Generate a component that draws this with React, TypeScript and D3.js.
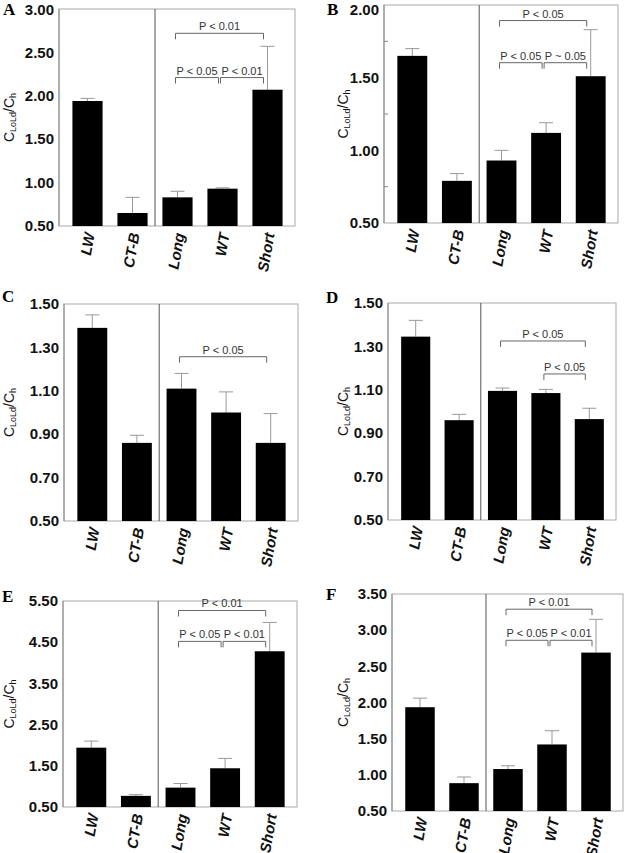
import React from "react";
import * as d3 from "d3";

const categories = ["LW", "CT-B", "Long", "WT", "Short"];

const meansA = [1.94, 0.65, 0.83, 0.93, 2.07];
const errA = [0.03, 0.18, 0.07, 0.01, 0.5];
const meansB = [1.65, 0.79, 0.93, 1.12, 1.51];
const errB = [0.05, 0.05, 0.07, 0.07, 0.32];
const meansC = [1.39, 0.86, 1.11, 1.0, 0.86];
const errC = [0.06, 0.035, 0.07, 0.095, 0.135];
const meansD = [1.345, 0.96, 1.095, 1.085, 0.965];
const errD = [0.075, 0.027, 0.013, 0.017, 0.05];
const meansE = [1.94, 0.77, 0.97, 1.44, 4.28];
const errE = [0.16, 0.03, 0.1, 0.24, 0.7];
const meansF = [1.935, 0.885, 1.08, 1.42, 2.69];
const errF = [0.125, 0.085, 0.045, 0.19, 0.46];

const ticksA = [0.5, 1.0, 1.5, 2.0, 2.5, 3.0];
const ticksB = [0.5, 1.0, 1.5, 2.0];
const minorB = [0.75, 1.25, 1.75];
const ticksC = [0.5, 0.7, 0.9, 1.1, 1.3, 1.5];
const ticksD = [0.5, 0.7, 0.9, 1.1, 1.3, 1.5];
const ticksE = [0.5, 1.5, 2.5, 3.5, 4.5, 5.5];
const ticksF = [0.5, 1.0, 1.5, 2.0, 2.5, 3.0, 3.5];

const bracketsA = [
  { from: "Long", to: "Short", level: 2.72, label: "P < 0.01" },
  { from: "Long", to: "WT", level: 2.21, label: "P < 0.05" },
  { from: "WT", to: "Short", level: 2.21, label: "P < 0.01" },
];
const bracketsB = [
  { from: "Long", to: "Short", level: 1.893, label: "P < 0.05" },
  { from: "Long", to: "WT", level: 1.603, label: "P < 0.05" },
  { from: "WT", to: "Short", level: 1.603, label: "P ~ 0.05" },
];
const bracketsC = [{ from: "Long", to: "Short", level: 1.257, label: "P < 0.05" }];
const bracketsD = [
  { from: "Long", to: "Short", level: 1.325, label: "P < 0.05" },
  { from: "WT", to: "Short", level: 1.173, label: "P < 0.05" },
];
const bracketsE = [
  { from: "Long", to: "Short", level: 5.27, label: "P < 0.01" },
  { from: "Long", to: "WT", level: 4.52, label: "P < 0.05" },
  { from: "WT", to: "Short", level: 4.52, label: "P < 0.01" },
];
const bracketsF = [
  { from: "Long", to: "Short", level: 3.29, label: "P < 0.01" },
  { from: "Long", to: "WT", level: 2.86, label: "P < 0.05" },
  { from: "WT", to: "Short", level: 2.86, label: "P < 0.01" },
];

const panels = [
  { letter: "A", means: meansA, err: errA, ticks: ticksA, minor: [], brackets: bracketsA, domain: [0.5, 3.0], x0: 59, x1: 295, y0: 9, y1: 226, lx: 14, letterX: 3, letterY: 15 },
  { letter: "B", means: meansB, err: errB, ticks: ticksB, minor: minorB, brackets: bracketsB, domain: [0.5, 2.0], x0: 384, x1: 618, y0: 5, y1: 223, lx: 348, letterX: 327, letterY: 15 },
  { letter: "C", means: meansC, err: errC, ticks: ticksC, minor: [], brackets: bracketsC, domain: [0.5, 1.5], x0: 64, x1: 298, y0: 304, y1: 521, lx: 14, letterX: 2, letterY: 302 },
  { letter: "D", means: meansD, err: errD, ticks: ticksD, minor: [], brackets: bracketsD, domain: [0.5, 1.5], x0: 388, x1: 616, y0: 303, y1: 520, lx: 348, letterX: 326, letterY: 303 },
  { letter: "E", means: meansE, err: errE, ticks: ticksE, minor: [], brackets: bracketsE, domain: [0.5, 5.5], x0: 63, x1: 297, y0: 601, y1: 807, lx: 14, letterX: 2, letterY: 602 },
  { letter: "F", means: meansF, err: errF, ticks: ticksF, minor: [], brackets: bracketsF, domain: [0.5, 3.5], x0: 392, x1: 623, y0: 594, y1: 811, lx: 348, letterX: 326, letterY: 600 },
];

const SANS = "Arial, 'Liberation Sans', Helvetica, sans-serif";
const SERIF = "'Times New Roman', 'Liberation Serif', serif";

function Panel({ p }: { p: any }) {
  const y = d3.scaleLinear().domain(p.domain).range([p.y1, p.y0]);
  const x = d3
    .scaleBand()
    .domain(categories)
    .range([p.x0 + 6, p.x1 - 5])
    .paddingInner(0.33)
    .paddingOuter(0.165);
  const bw = x.bandwidth();
  const cx = (c: string) => (x(c) as number) + bw / 2;
  const sepX = ((x("CT-B") as number) + bw + (x("Long") as number)) / 2;
  const midY = (p.y0 + p.y1) / 2;
  return (
    <g>
      <text x={p.letterX} y={p.letterY} fontFamily={SERIF} fontWeight="bold" fontSize={17}>
        {p.letter}
      </text>
      <rect x={p.x0} y={p.y0} width={p.x1 - p.x0} height={p.y1 - p.y0} fill="none" stroke="#aaa" strokeWidth={1} />
      <line x1={p.x0} x2={p.x0} y1={p.y0} y2={p.y1} stroke="#888" strokeWidth={1} />
      <line x1={sepX} x2={sepX} y1={p.y0} y2={p.y1} stroke="#555" strokeWidth={1} />
      {p.ticks.map((t: number) => (
        <text key={"t" + t} x={p.x0 - 5} y={Math.max(y(t), 10)} dy="0.35em" textAnchor="end" fontFamily={SANS} fontWeight="bold" fontSize={15} fill="#111">
          {t.toFixed(2)}
        </text>
      ))}
      {p.minor.map((t: number) => (
        <line key={"m" + t} x1={p.x0} x2={p.x0 + 4} y1={y(t)} y2={y(t)} stroke="#888" strokeWidth={1} />
      ))}
      <text transform={`translate(${p.lx},${midY}) rotate(-90)`} textAnchor="middle" fontFamily={SANS} fontSize={14} fill="#111">
        C<tspan fontSize={9} dy={2}>LoLd</tspan>
        <tspan fontSize={14} dy={-2}>/C</tspan>
        <tspan fontSize={9} dy={2}>h</tspan>
      </text>
      {categories.map((c, i) => {
        const top = y(p.means[i] + p.err[i]);
        return (
          <g key={c}>
            <line x1={cx(c)} x2={cx(c)} y1={y(p.means[i])} y2={top} stroke="#999" strokeWidth={1} />
            <line x1={cx(c) - 7} x2={cx(c) + 7} y1={top} y2={top} stroke="#999" strokeWidth={1} />
            <rect x={x(c)} y={y(p.means[i])} width={bw} height={p.y1 - y(p.means[i])} fill="#000" />
            <text
              transform={`translate(${cx(c) + 2},${p.y1 + 7}) rotate(-80)`}
              textAnchor="end"
              dy="0.35em"
              fontFamily={SANS}
              fontWeight="bold"
              fontStyle="italic"
              fontSize={15}
              fill="#111"
            >
              {c}
            </text>
          </g>
        );
      })}
      {p.brackets.map((b: any, i: number) => {
        const xa = cx(b.from) - 2;
        const xb = cx(b.to) - 4;
        const yl = y(b.level);
        return (
          <g key={"b" + i}>
            <path d={`M${xa},${yl + 6}V${yl}H${xb}V${yl + 6}`} fill="none" stroke="#666" strokeWidth={1} />
            <text x={(xa + xb) / 2} y={yl - 3} textAnchor="middle" fontFamily={SANS} fontSize={11} fill="#333">
              {b.label}
            </text>
          </g>
        );
      })}
    </g>
  );
}

export default function App() {
  return (
    <svg width={625} height={853} style={{ position: "absolute", left: 0, top: 0, background: "#fff" }}>
      <rect width={625} height={853} fill="#fff" />
      {panels.map((p) => (
        <Panel key={p.letter} p={p} />
      ))}
    </svg>
  );
}
